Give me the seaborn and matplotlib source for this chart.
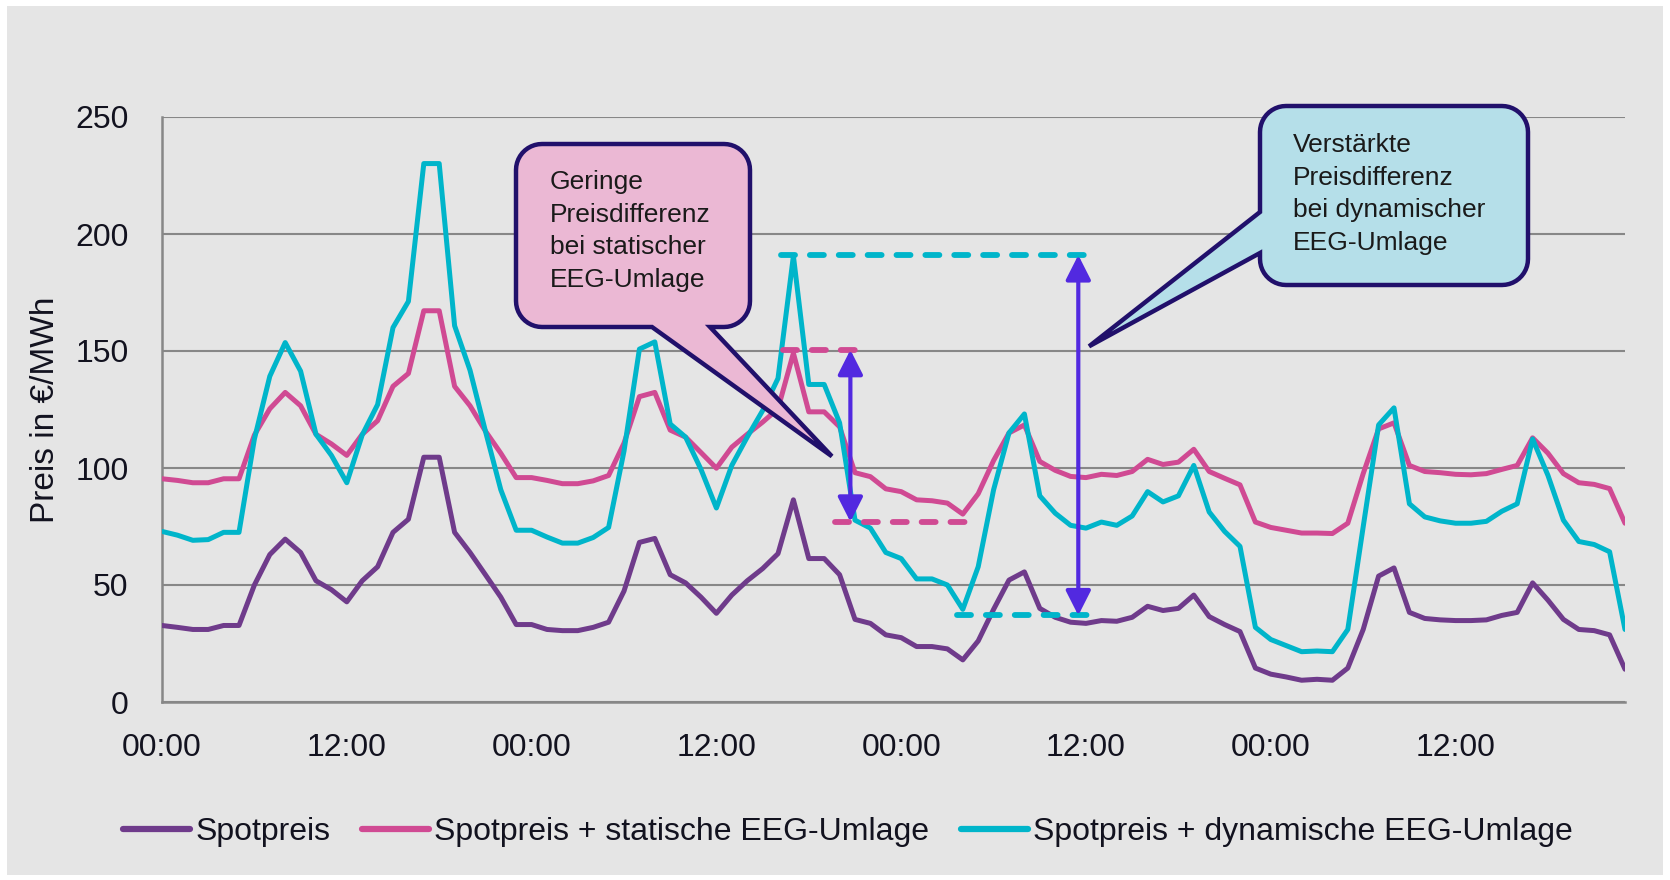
import numpy as np
import pandas as pd
import matplotlib
matplotlib.use("Agg")
import matplotlib.pyplot as plt
import seaborn as sns
from matplotlib.path import Path
from matplotlib.patches import PathPatch, Rectangle
from matplotlib.lines import Line2D
from matplotlib.transforms import IdentityTransform

# ---------------- data ----------------
hours = list(range(96))
spot = [32.7, 31.9, 31.0, 31.0, 32.7, 32.7, 50.0, 63.0, 69.6, 63.9, 51.8, 48.0, 42.8, 51.8, 57.8, 72.5,
        78.1, 104.6, 104.6, 72.5, 63.9, 54.4, 44.8, 33.1, 33.1, 31.0,
        30.5, 30.5, 31.9, 34.1, 47.4, 68.2, 69.9, 54.4, 50.9, 44.8, 37.9, 45.7, 51.8, 57.0, 63.4, 86.4,
        61.3, 61.3, 54.4, 35.3, 33.6, 28.7, 27.5, 23.7, 23.7, 22.7,
        18.0, 26.1, 39.6, 52.1, 55.6, 40.0, 36.2, 34.1, 33.6, 34.8, 34.5, 36.2, 40.9, 39.1, 40.0, 45.7,
        36.5, 33.1, 30.1, 14.5, 11.9, 10.7, 9.3, 9.7, 9.3, 14.5,
        31.0, 53.8, 57.3, 38.3, 35.7, 35.1, 34.8, 34.8, 35.1, 37.0, 38.3, 50.9, 43.5, 35.3, 31.0, 30.5,
        28.7, 14.0]
static = [95.4, 94.7, 93.7, 93.7, 95.4, 95.4, 114.1, 125.3, 132.3, 126.6, 114.4, 110.3, 105.4, 114.4, 120.2,
          134.9, 140.4, 167.2, 167.2, 134.9, 126.6, 115.8, 106.3, 95.9, 95.9, 94.7,
          93.3, 93.3, 94.5, 96.8, 110.6, 130.5, 132.3, 116.2, 113.2, 106.6, 99.9, 108.9, 114.4, 119.6, 125.3,
          149.1, 124.0, 124.0, 117.6, 98.0, 96.3, 91.1, 89.9, 86.4, 86.0, 85.0,
          80.3, 89.0, 103.2, 115.0, 118.4, 102.8, 99.0, 96.4, 95.9, 97.3, 96.8, 98.5, 103.7, 101.5, 102.5,
          108.0, 98.5, 95.6, 92.8, 76.9, 74.6, 73.4, 72.2, 72.2, 72.0, 76.4,
          97.6, 116.7, 119.3, 101.1, 98.5, 98.0, 97.3, 97.1, 97.6, 99.4, 101.1, 112.9, 106.3, 97.6, 93.7,
          93.0, 91.2, 76.4]
dynamic = [72.9, 71.3, 69.1, 69.4, 72.5, 72.5, 112.4, 139.2, 153.6, 141.4, 114.4, 105.4, 93.7, 114.1, 127.1,
           160.0, 171.2, 230.1, 230.1, 160.8, 141.8, 115.8, 90.7, 73.4, 73.4, 70.5,
           67.9, 67.9, 70.3, 74.6, 107.2, 150.8, 153.9, 118.8, 113.2, 99.4, 82.9, 101.1, 113.2, 124.5, 138.3,
           190.6, 135.7, 135.7, 119.3, 77.7, 74.3, 63.9, 61.3, 52.6, 52.6, 50.0,
           39.6, 57.8, 90.7, 115.0, 123.1, 88.1, 80.7, 75.5, 74.3, 76.9, 75.5, 79.5, 89.9, 85.5, 88.1,
           101.1, 81.2, 72.9, 66.5, 31.9, 26.7, 24.1, 21.5, 21.8, 21.5, 31.0,
           74.9, 118.4, 125.7, 84.7, 79.1, 77.4, 76.4, 76.4, 77.2, 81.5, 84.7, 112.4, 96.8, 77.7, 68.6,
           67.3, 64.2, 31.0]

series_names = ["Spotpreis", "Spotpreis + statische EEG-Umlage", "Spotpreis + dynamische EEG-Umlage"]
series_colors = ["#6f3b8b", "#d04a93", "#00b5ca"]
y_ticks = [0, 50, 100, 150, 200, 250]
x_label_pos = [0, 12, 24, 36, 48, 60, 72, 84]
x_tick_labels = ["00:00", "12:00", "00:00", "12:00", "00:00", "12:00", "00:00", "12:00"]
y_label = "Preis in €/MWh"

# annotation levels (hour start, hour end, value)
pink_dash_top = (40.3, 45.5, 150.5)
pink_dash_bot = (43.7, 52.6, 77.0)
cyan_dash_top = (40.2, 60.3, 191.0)
cyan_dash_bot = (51.6, 60.4, 37.0)
arrow_static = (44.7, 77.0, 150.5)
arrow_dynamic = (59.5, 37.0, 191.0)
text_static = "Geringe\nPreisdifferenz\nbei statischer\nEEG-Umlage"
text_dynamic = "Verstärkte\nPreisdifferenz\nbei dynamischer\nEEG-Umlage"
tip_static = (43.5, 105.0)
tip_dynamic = (60.2, 152.0)

# ---------------- style ----------------
sns.set_style("white")
plt.rcParams["font.family"] = ["Liberation Sans", "DejaVu Sans"]
TXT = "#12121f"
GRID = "#878787"
BG = "#e5e5e5"

W, H = 1670, 880
fig = plt.figure(figsize=(W / 100, H / 100), dpi=100)
fig.patch.set_facecolor("white")
fig.add_artist(Rectangle((7 / W, 5 / H), (1663 - 7) / W, (874 - 5) / H, transform=fig.transFigure,
                         facecolor=BG, edgecolor="none", zorder=-10))

ax = fig.add_axes([162 / W, (H - 702) / H, (1625 - 162) / W, (702 - 117) / H])
ax.set_facecolor(BG)

df = pd.DataFrame({
    "hour": hours * 3,
    "value": spot + static + dynamic,
    "series": [series_names[0]] * 96 + [series_names[1]] * 96 + [series_names[2]] * 96,
})
sns.lineplot(data=df, x="hour", y="value", hue="series", hue_order=series_names,
             palette=dict(zip(series_names, series_colors)), linewidth=3.6, ax=ax,
             legend=False, zorder=3, estimator=None)

ax.set_xlim(0, 95)
ax.set_ylim(0, 250)
ax.set_yticks(y_ticks)
ax.yaxis.grid(True, color=GRID, linewidth=1.5)
ax.xaxis.grid(False)
ax.set_axisbelow(True)
for s in ["top", "right"]:
    ax.spines[s].set_visible(False)
for s in ["left", "bottom"]:
    ax.spines[s].set_color(GRID)
    ax.spines[s].set_linewidth(1.8)
ax.spines["bottom"].set_zorder(2.5)

tick_positions = list(range(0, 96, 2))
labels = [x_tick_labels[x_label_pos.index(p)] if p in x_label_pos else "" for p in tick_positions]
ax.set_xticks(tick_positions)
ax.set_xticklabels(labels)
ax.tick_params(axis="x", direction="out", length=8, width=1.5, color=GRID, labelsize=23,
               pad=14, labelcolor=TXT)
ax.tick_params(axis="y", length=0, pad=24, labelsize=23, labelcolor=TXT)
ax.set_xlabel("")
ax.set_ylabel(y_label, fontsize=24, color=TXT)
ax.yaxis.set_label_coords((61 - 162) / 1463, 0.5)

# dashed reference levels
for (x0, x1, v), c in [(pink_dash_top, series_colors[1]), (pink_dash_bot, series_colors[1]),
                       (cyan_dash_top, series_colors[2]), (cyan_dash_bot, series_colors[2])]:
    ln, = ax.plot([x0, x1], [v, v], color=c, lw=4.2, zorder=4, solid_capstyle="round",
                  dash_capstyle="round")
    ln.set_dashes((2.4, 2.55))

# double arrows
for (x, v0, v1) in [arrow_static, arrow_dynamic]:
    ax.annotate("", xy=(x, v1), xytext=(x, v0),
                arrowprops=dict(arrowstyle="<|-|>,head_length=0.75,head_width=0.38",
                                color="#5229e0", lw=3, shrinkA=0, shrinkB=0,
                                mutation_scale=20), zorder=5)


# speech bubbles
def bubble(x0, y0, x1, y1, r, side, b_a, b_b, tip):
    pts = []

    def arc(cx, cy, a0, a1):
        for t in np.linspace(np.radians(a0), np.radians(a1), 12):
            pts.append((cx + r * np.cos(t), cy + r * np.sin(t)))

    arc(x0 + r, y0 + r, 180, 270)
    if side == "bottom":
        pts.extend([(b_a, y0), tip, (b_b, y0)])
    arc(x1 - r, y0 + r, 270, 360)
    arc(x1 - r, y1 - r, 0, 90)
    arc(x0 + r, y1 - r, 90, 180)
    if side == "left":
        pts.extend([(x0, b_a), tip, (x0, b_b)])
    pts.append(pts[0])
    codes = [Path.MOVETO] + [Path.LINETO] * (len(pts) - 2) + [Path.CLOSEPOLY]
    return Path(pts, codes)


tip_s = tuple(ax.transData.transform(tip_static))
tip_d = tuple(ax.transData.transform(tip_dynamic))

p1 = bubble(516, H - 327, 750, H - 144, 26, "bottom", 652, 710, tip_s)
fig.add_artist(PathPatch(p1, transform=IdentityTransform(), facecolor="#ebb8d4",
                         edgecolor="#21106b", lw=3.2, joinstyle="miter", zorder=6))
p2 = bubble(1260, H - 285, 1528, H - 106, 26, "left", H - 212, H - 253, tip_d)
fig.add_artist(PathPatch(p2, transform=IdentityTransform(), facecolor="#b5dfe9",
                         edgecolor="#21106b", lw=3.2, joinstyle="miter", zorder=6))

fig.text(550 / W, 1 - 170 / H, text_static, ha="left", va="top", fontsize=19,
         linespacing=1.45, color="#1a1a1a", zorder=7)
fig.text(1293 / W, 1 - 133 / H, text_dynamic, ha="left", va="top", fontsize=19,
         linespacing=1.45, color="#1a1a1a", zorder=7)

# legend
handles = [Line2D([], [], color=c, lw=4.5, solid_capstyle="round") for c in series_colors]
fig.legend(handles, series_names, loc="center", bbox_to_anchor=(848 / W, 1 - 832 / H), ncol=3,
           frameon=False, fontsize=23, handlelength=2.1, handletextpad=0.15, columnspacing=1.0,
           labelcolor=TXT)

fig.savefig("out.png", dpi=100, facecolor=fig.get_facecolor())
